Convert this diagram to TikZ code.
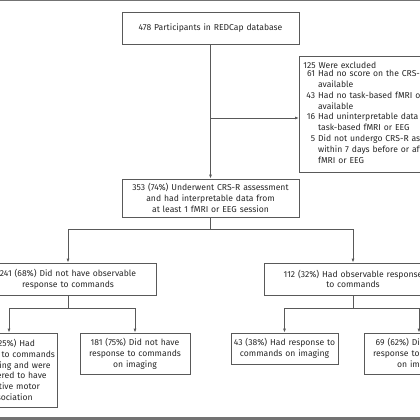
\documentclass[tikz,border=0pt]{standalone}
\usepackage{fontspec}
\setmainfont{Fira Sans}
\usepackage{xcolor}
\usepackage{tikz}
\usetikzlibrary{positioning, arrows.meta, calc}

\definecolor{linegray}{gray}{0.35}
\definecolor{rulegray}{gray}{0.45}

\tikzset{
    box/.style={draw=linegray, line width=0.8pt, inner sep=0pt, align=center,
        font=\fontsize{8.6}{10.8}\selectfont, text=black!85},
    link/.style={draw=linegray, line width=0.8pt},
    arrow/.style={link, -{Latex[length=4pt,width=3pt]}}
}

\begin{document}
\begin{tikzpicture}[x=1pt, y=-1pt]
        \useasboundingbox (0,0) rectangle (420,420);
        \draw[rulegray, line width=1.5pt] (0,0.5) -- (420,0.5);
        \draw[rulegray, line width=2.5pt] (0,418.5) -- (420,418.5);

        \node[box, minimum width=177pt, minimum height=32pt, text width=170pt] (top) at (210.5,28) {478 Participants in REDCap database};
        \node[box, anchor=north west, minimum width=170pt, minimum height=116pt, text width=162pt, align=left] (excl) at (299,56) {%
            125 Were excluded\\[-1pt]
            \begin{tabular}{@{\hspace{3pt}}r@{\hspace{3pt}}l@{}}
            61 & Had no score on the CRS-R\\
               & available\\
            43 & Had no task-based fMRI or EEG\\
               & available\\
            16 & Had uninterpretable data from\\
               & task-based fMRI or EEG\\
            5  & Did not undergo CRS-R assessment\\
               & within 7 days before or after\\
               & fMRI or EEG
            \end{tabular}};
        \node[box, minimum width=177pt, minimum height=38pt, text width=170pt] (assess) at (210.5,198) {353 (74\%) Underwent CRS-R assessment\\and had interpretable data from\\at least 1 fMRI or EEG session};

        \node[box, minimum width=176pt, minimum height=32pt, text width=170pt] (noresp) at (68,279) {241 (68\%) Did not have observable\\response to commands};
        \node[box, minimum width=178pt, minimum height=32pt, text width=170pt] (resp) at (353,279) {112 (32\%) Had observable response\\to commands};

        \node[box, minimum width=96pt, minimum height=74pt, text width=92pt] (cmd) at (9,370) {60 (25\%) Had\\response to commands\\on imaging and were\\considered to have\\cognitive motor\\dissociation};
        \node[box, minimum width=110pt, minimum height=41pt, text width=104pt] (nocmd) at (135,353.5) {181 (75\%) Did not have\\response to commands\\on imaging};
        \node[box, minimum width=107pt, minimum height=31pt, text width=104pt] (imgresp) at (284.5,348.5) {43 (38\%) Had response to\\commands on imaging};
        \node[box, minimum width=110pt, minimum height=41pt, text width=104pt] (noimg) at (419,353.5) {69 (62\%) Did not have\\response to commands\\on imaging};

        % branch points
        \coordinate (b1) at ($(assess.south)+(0,12)$);
        \coordinate (b2) at ($(noresp.south)+(0,13)$);
        \coordinate (b3) at ($(resp.south)+(0,13)$);

        \draw[arrow] (top.south) -- (assess.north);
        \draw[arrow] (top.south |- 0,118) -- (excl.west |- 0,118);
        \draw[link] (assess.south) -- (b1);
        \draw[arrow] (b1) -| (noresp.north);
        \draw[arrow] (b1) -| (resp.north);
        \draw[link] (noresp.south) -- (b2);
        \draw[arrow] (b2) -| (cmd.north);
        \draw[arrow] (b2) -| (nocmd.north);
        \draw[link] (resp.south) -- (b3);
        \draw[arrow] (b3) -| (imgresp.north);
        \draw[arrow] (b3) -| (noimg.north);
    \end{tikzpicture}
\end{document}
